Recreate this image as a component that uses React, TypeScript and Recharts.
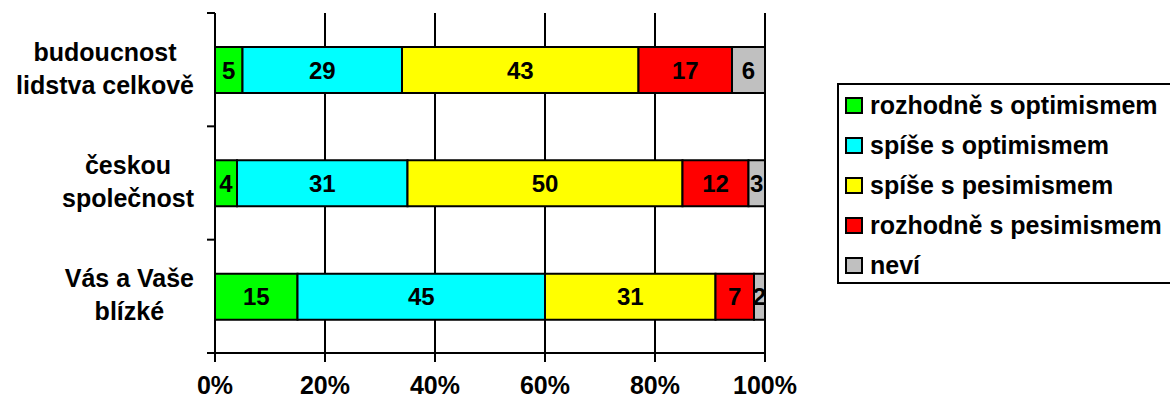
import { BarChart, Bar, XAxis, YAxis, CartesianGrid, LabelList } from 'recharts';

const categories = ['budoucnost\nlidstva celkově', 'českou\nspolečnost', 'Vás a Vaše\nblízké'];

const series = [
  { key: 'rozhodne_opt', name: 'rozhodně s optimismem', color: '#00ff00' },
  { key: 'spise_opt', name: 'spíše s optimismem', color: '#00ffff' },
  { key: 'spise_pes', name: 'spíše s pesimismem', color: '#ffff00' },
  { key: 'rozhodne_pes', name: 'rozhodně s pesimismem', color: '#ff0000' },
  { key: 'nevi', name: 'neví', color: '#c0c0c0' },
];

const rozhodneOpt = [5, 4, 15];
const spiseOpt = [29, 31, 45];
const spisePes = [43, 50, 31];
const rozhodnePes = [17, 12, 7];
const nevi = [6, 3, 2];

const xTicks = [0, 20, 40, 60, 80, 100];

const data = categories.map((name, i) => ({
  name,
  rozhodne_opt: rozhodneOpt[i],
  spise_opt: spiseOpt[i],
  spise_pes: spisePes[i],
  rozhodne_pes: rozhodnePes[i],
  nevi: nevi[i],
}));

const FONT = '"Liberation Sans", Arial, sans-serif';
const AXIS_X = 215;

let ctx: CanvasRenderingContext2D | null = null;
const textWidth = (s: string) => {
  if (!ctx) {
    ctx = document.createElement('canvas').getContext('2d');
    if (ctx) ctx.font = `bold 25px ${FONT}`;
  }
  return ctx ? ctx.measureText(s).width : s.length * 13;
};

// category label: lines centred inside a right-aligned block,
// tick marks sit on the band edges (Excel style)
const CategoryTick = (props: any) => {
  const { y, payload, index } = props;
  const half = payload.offset || 0;
  const lines = String(payload.value).split('\n');
  const w = Math.max(...lines.map(textWidth));
  const cx = 194 - w / 2;
  return (
    <g>
      <line x1={AXIS_X - 8} x2={AXIS_X} y1={y - half} y2={y - half} stroke="#000" strokeWidth={2} />
      {index === categories.length - 1 && (
        <line x1={AXIS_X - 8} x2={AXIS_X} y1={y + half} y2={y + half} stroke="#000" strokeWidth={2} />
      )}
      <text x={cx} y={y} textAnchor="middle" fontFamily={FONT} fontWeight="bold" fontSize={25} fill="#000">
        <tspan x={cx} dy={-9}>{lines[0]}</tspan>
        <tspan x={cx} dy={33}>{lines[1]}</tspan>
      </text>
    </g>
  );
};

// the legend box runs past the right edge of the picture in the original
const LegendBox = () => (
  <div
    style={{
      position: 'absolute',
      left: 837,
      top: 83,
      boxSizing: 'border-box',
      width: 360,
      height: 201,
      border: '2px solid #000',
      background: '#fff',
      paddingLeft: 6,
      fontFamily: FONT,
      fontWeight: 'bold',
      fontSize: 25,
      color: '#000',
    }}
  >
    {series.map((s) => (
      <div key={s.key} style={{ height: 40, display: 'flex', alignItems: 'center', whiteSpace: 'nowrap' }}>
        <div
          style={{
            boxSizing: 'border-box',
            width: 18,
            height: 17,
            border: '2px solid #000',
            background: s.color,
            marginRight: 7,
          }}
        />
        <span>{s.name}</span>
      </div>
    ))}
  </div>
);

export default function App() {
  return (
    <div style={{ position: 'absolute', left: 0, top: 0, width: 1170, height: 403, overflow: 'hidden', background: '#fff' }}>
      <BarChart
        width={1170}
        height={403}
        data={data}
        layout="vertical"
        margin={{ top: 13, right: 405, bottom: 0, left: 0 }}
      >
        <CartesianGrid horizontal={false} stroke="#000" strokeWidth={2} />
        <XAxis
          type="number"
          domain={[0, 100]}
          ticks={xTicks}
          tickFormatter={(v) => `${v}%`}
          height={50}
          axisLine={{ stroke: '#000', strokeWidth: 2 }}
          tickLine={{ stroke: '#000', strokeWidth: 2 }}
          tickSize={9}
          tickMargin={14}
          tick={{ fill: '#000', fontSize: 25, fontWeight: 'bold', fontFamily: FONT }}
          interval={0}
        />
        <YAxis
          type="category"
          dataKey="name"
          width={AXIS_X}
          tick={<CategoryTick />}
          tickLine={false}
          axisLine={{ stroke: '#000', strokeWidth: 2 }}
          interval={0}
        />
        {series.map((s) => (
          <Bar
            key={s.key}
            dataKey={s.key}
            name={s.name}
            stackId="a"
            fill={s.color}
            stroke="#000"
            strokeWidth={2}
            barSize={46}
            isAnimationActive={false}
          >
            <LabelList
              dataKey={s.key}
              position="center"
              fill="#000"
              fontSize={24}
              fontWeight="bold"
              fontFamily={FONT}
            />
          </Bar>
        ))}
      </BarChart>
      <LegendBox />
    </div>
  );
}
